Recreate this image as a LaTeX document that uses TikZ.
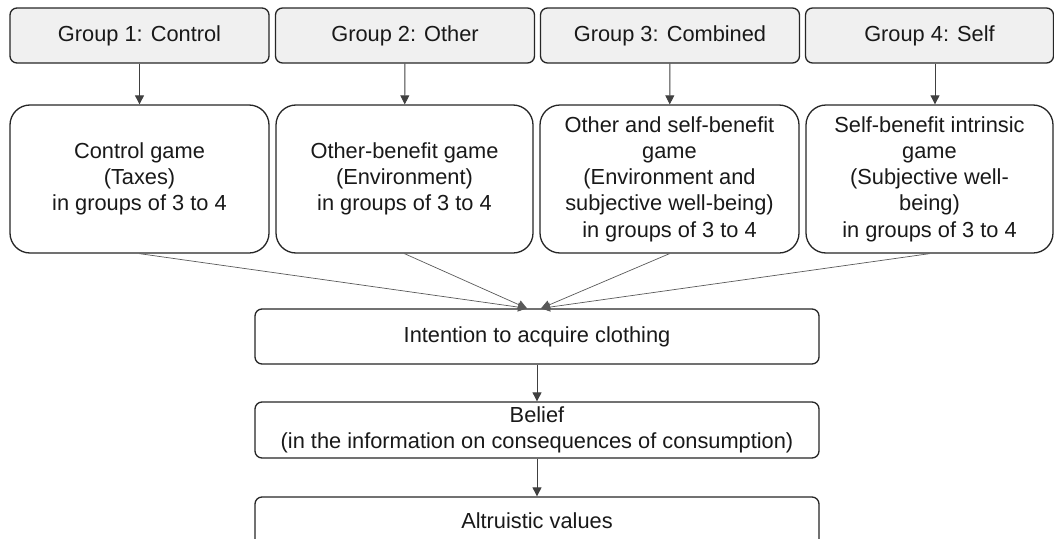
\documentclass[tikz,border=0pt]{standalone}
\usepackage{fontspec}
\setmainfont{Liberation Sans}
\usetikzlibrary{arrows.meta}

\tikzset{
  basebox/.style={draw=black!85, line width=1.3pt, inner sep=0pt, align=center,
    font=\fontsize{21.8}{26.2}\selectfont, text=black!90},
  groupbox/.style={basebox, fill=black!6, rounded corners=7pt, minimum height=55pt},
  gamebox/.style={basebox, fill=white, rounded corners=20pt, minimum height=148pt},
  flowbox/.style={basebox, fill=white, rounded corners=7pt, minimum width=564pt},
  arr/.style={draw=black!75, line width=0.9pt, -{Triangle[length=9pt,width=9pt]}},
  conn/.style={draw=black!65, line width=0.7pt, -{Triangle[length=9pt,width=9pt]}}
}

\begin{document}
\begin{tikzpicture}[x=1pt,y=-1pt]
  \useasboundingbox (0,0) rectangle (1054,538);

  % group headers
  \node[groupbox, minimum width=259pt] (g1) at (139.5,35.5) {Group 1: Control};
  \node[groupbox, minimum width=259pt] (g2) at (405,35.5) {Group 2: Other};
  \node[groupbox, minimum width=259pt] (g3) at (670,35.5) {Group 3: Combined};
  \node[groupbox, minimum width=248pt] (g4) at (929.5,35.5) {Group 4: Self};

  % game treatments
  \node[gamebox, minimum width=259pt] (m1) at (139.5,179) {Control game\\(Taxes)\\in groups of 3 to 4};
  \node[gamebox, minimum width=257pt] (m2) at (404.5,179) {Other-benefit game\\(Environment)\\in groups of 3 to 4};
  \node[gamebox, minimum width=259pt] (m3) at (669.5,179) {Other and self-benefit\\game\\(Environment and\\subjective well-being)\\in groups of 3 to 4};
  \node[gamebox, minimum width=247pt] (m4) at (929.5,179) {Self-benefit intrinsic\\game\\(Subjective well-\\being)\\in groups of 3 to 4};

  % outcome measures
  \node[flowbox, minimum height=55pt] (int) at (537,336.5) {Intention to acquire clothing};
  \node[flowbox, minimum height=56pt] (bel) at (537,430) {Belief\\(in the information on consequences of consumption)};
  \node[flowbox, minimum height=50pt] (alt) at (537,522) {\raisebox{3pt}{Altruistic values}};

  % group -> game
  \draw[arr] (g1) -- (m1);
  \draw[arr] (g2) -- (m2);
  \draw[arr] (g3) -- (m3);
  \draw[arr] ([xshift=5.5pt]g4.south) -- ([xshift=5.5pt]m4.north);

  % games -> intention
  \coordinate (inL) at ([xshift=-10pt]int.north);
  \coordinate (inR) at ([xshift=4pt]int.north);
  \draw[conn] (m1.south) -- (inL);
  \draw[conn] (m2.south) -- (inL);
  \draw[conn] (m3.south) -- (inR);
  \draw[conn] (m4.south) -- (inR);

  % chain of measures
  \draw[arr] (int) -- (bel);
  \draw[arr] (bel) -- (alt);
\end{tikzpicture}
\end{document}
